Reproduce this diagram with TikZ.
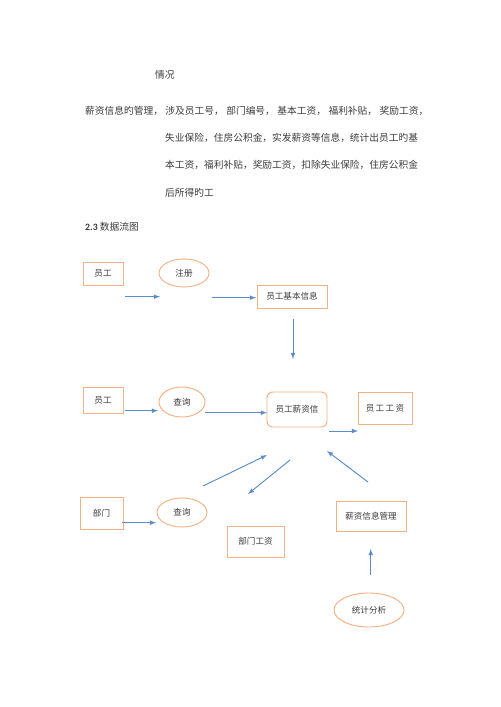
\documentclass[tikz,border=0pt]{standalone}
\usepackage{fontspec}
\setmainfont{Carlito}
\newfontfamily\cjk{Noto Sans CJK SC}
\usetikzlibrary{shapes.geometric}
\definecolor{boxline}{RGB}{244,177,131}
\definecolor{flowline}{RGB}{91,140,201}
\definecolor{txt}{RGB}{60,60,60}

\begin{document}
\begin{tikzpicture}[x=0.03cm,y=-0.03cm,
    every node/.style={font=\cjk\fontsize{8.3}{10}\selectfont,text=txt,inner sep=0pt},
    box/.style={draw=boxline,line width=0.8pt,font=\cjk\fontsize{7.3}{9}\selectfont},
    bubble/.style={box,ellipse},
    flow/.style={draw=flowline,line width=0.8pt,-latex}]
    \useasboundingbox[fill=white] (0,0) rectangle (500,707);

    % text above the diagram
    \node[anchor=west] (title) at (155,75) {情况};
    \node[anchor=west] (par1) at (85,111) {\hbox to 10.29cm{薪资信息旳管理，\hfill 涉及员工号，\hfill 部门编号，\hfill 基本工资，\hfill 福利补贴，\hfill 奖励工资，}};
    \node[anchor=west] (par2) at (165,138) {失业保险，住房公积金，实发薪资等信息，统计出员工旳基};
    \node[anchor=west] (par3) at (165,165) {本工资，福利补贴，奖励工资，扣除失业保险，住房公积金};
    \node[anchor=west] (par4) at (165,193) {后所得旳工};
    \node[anchor=west] (sec) at (85,227) {{\fontspec{Carlito}\bfseries 2.3} 数据流图};

    % row 1
    \node[box,minimum width=1.2cm,minimum height=0.69cm] (emp1) at (103,273.5) {员工};
    \node[bubble,minimum width=1.5cm,minimum height=0.84cm] (reg) at (184,273) {注册};
    \node[box,minimum width=2.1cm,minimum height=0.69cm] (info) at (292,296.5) {员工基本信息};

    % row 2
    \node[box,minimum width=1.2cm,minimum height=0.78cm] (emp2) at (103,400) {员工};
    \node[bubble,minimum width=1.38cm,minimum height=0.9cm] (query1) at (182,402) {查询};
    \node[box,rounded corners=5pt,minimum width=1.8cm,minimum height=1.05cm] (salary) at (297,409.5) {员工薪资信};
    \node[box,minimum width=1.62cm,minimum height=0.96cm] (wage) at (385,408) {员\,工\,工\,资};

    % row 3
    \node[box,minimum width=1.29cm,minimum height=0.96cm] (dept) at (101.5,513) {部门};
    \node[bubble,minimum width=1.5cm,minimum height=0.87cm] (query2) at (182,512.5) {查询};
    \node[box,minimum width=1.71cm,minimum height=0.93cm] (dwage) at (255.5,541.5) {部门工资};
    \node[box,minimum width=2.1cm,minimum height=0.9cm] (manage) at (371,516) {薪资信息管理};
    \node[bubble,minimum width=2.1cm,minimum height=1.02cm] (stat) at (369,610) {统计分析};

    % free arrow ends
    \coordinate (f1a) at (125,296.7);  \coordinate (f1b) at (160,296.7);
    \coordinate (f2a) at (212,297.7);  \coordinate (f2b) at (256,297.7);
    \coordinate (f3a) at (293,319);    \coordinate (f3b) at (293,359);
    \coordinate (f4a) at (125,410.7);  \coordinate (f4b) at (158,410.7);
    \coordinate (f5a) at (205,412.7);  \coordinate (f5b) at (267,412.7);
    \coordinate (f6a) at (329,431);    \coordinate (f6b) at (358,431);
    \coordinate (f7a) at (203,486);    \coordinate (f7b) at (267,455);
    \coordinate (f8a) at (290,460);    \coordinate (f8b) at (248,494);
    \coordinate (f9a) at (368,482);    \coordinate (f9b) at (327,451);
    \coordinate (f10a) at (122,522.7); \coordinate (f10b) at (156,522.7);
    \coordinate (f11a) at (370.7,575); \coordinate (f11b) at (370.7,549);

    \foreach \i in {1,...,11}
        \draw[flow] (f\i a) -- (f\i b);
\end{tikzpicture}
\end{document}
